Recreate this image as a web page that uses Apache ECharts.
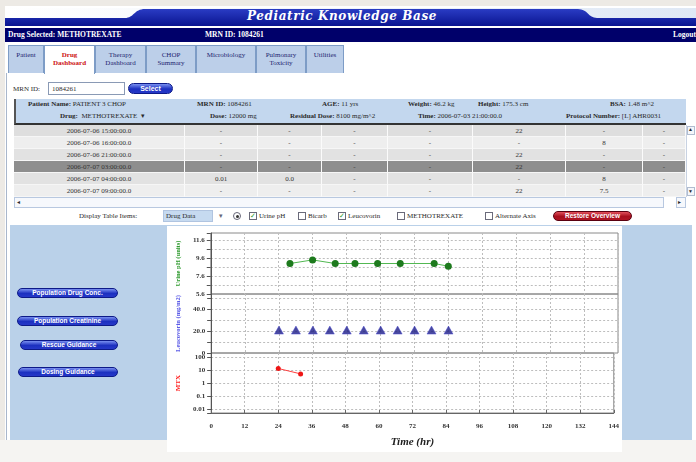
<!DOCTYPE html>
<html><head><meta charset="utf-8">
<script src="https://cdn.jsdelivr.net/npm/echarts@6/dist/echarts.min.js"></script>
<style>
html,body{margin:0;padding:0;}
body{width:696px;height:462px;overflow:hidden;background:#edeae5;position:relative;}
.a{position:absolute;box-sizing:border-box;}
.t{position:absolute;font-family:'Liberation Serif','DejaVu Serif',serif;font-size:7px;line-height:8px;white-space:nowrap;color:#2a2a2a;}
.b{font-weight:bold;}
.tab{position:absolute;top:45px;height:28px;box-sizing:border-box;border:1px solid #7d9cc6;border-bottom:none;background:#bccfe9;font-family:'Liberation Serif',serif;font-size:7px;line-height:8px;text-align:center;color:#1d2570;padding-top:5px;}
.cb{position:absolute;top:212px;width:8px;height:8px;box-sizing:border-box;border:1px solid #6a6a7a;background:#fff;font-size:7px;line-height:6px;color:#2a9a2a;text-align:center;font-family:'DejaVu Sans',sans-serif;}
.btn{position:absolute;box-sizing:border-box;border-radius:6px;color:#fff;font-family:'Liberation Sans',sans-serif;font-weight:bold;font-size:6.5px;line-height:9px;text-align:center;white-space:nowrap;}
.blue{background:linear-gradient(#7a90f0,#1c30c0 55%,#2638c8);border:1px solid #0d1a88;}
.red{background:linear-gradient(#e2505c,#a8101e 55%,#b01424);border:1px solid #5a0010;}
.cell{position:absolute;box-sizing:border-box;border-right:1px solid #fbfbfb;font-family:'Liberation Serif',serif;font-size:7px;line-height:12px;text-align:center;color:#333;white-space:nowrap;}
</style></head><body>
<div class="a" style="left:5px;top:6px;width:691px;height:434px;background:#fff"></div>
<div class="a" style="left:0;top:440px;width:696px;height:22px;background:#f5f4f2"></div>

<svg class="a" style="left:5px;top:8px" width="691" height="18">
<defs>
<linearGradient id="hb" x1="0" y1="0" x2="0" y2="1"><stop offset="0" stop-color="#2a3cc4"/><stop offset="1" stop-color="#0a1490"/></linearGradient>
<linearGradient id="hw" x1="0" y1="0" x2="1" y2="0"><stop offset="0" stop-color="#ffffff"/><stop offset="1" stop-color="#dfe8f5"/></linearGradient>
</defs>
<rect x="0" y="0" width="691" height="11" fill="url(#hw)"/>
<path d="M0,10 L120,10 C129,10 129,1 140,1 L573,1 C583,1 583,10 592,10 L691,10 L691,18 L0,18 Z" fill="url(#hb)"/>
</svg>
<div class="t" style="left:230px;top:9px;width:224px;text-align:center;font-family:'DejaVu Serif',serif;font-style:italic;font-weight:bold;font-size:12px;line-height:14px;color:#fff;letter-spacing:0.6px">Pediatric Knowledge Base</div>
<div class="a" style="left:5px;top:28px;width:691px;height:14px;background:#00006a"></div>
<div class="t b" style="left:8px;top:31px;color:#fff;font-size:7.5px">Drug Selected: METHOTREXATE</div>
<div class="t b" style="left:205px;top:31px;color:#fff;font-size:7.5px">MRN ID: 1084261</div>
<div class="t b" style="left:673px;top:31px;color:#fff;font-size:7.5px">Logout</div>

<div class="tab" style="left:8px;width:36px">Patient</div>
<div class="tab" style="left:44px;width:51px;background:#fff;height:29px;color:#cc1010;font-weight:bold">Drug<br>Dashboard</div>
<div class="tab" style="left:95px;width:51px">Therapy<br>Dashboard</div>
<div class="tab" style="left:146px;width:50px">CHOP<br>Summary</div>
<div class="tab" style="left:196px;width:60px">Microbiology</div>
<div class="tab" style="left:256px;width:50px">Pulmonary<br>Toxicity</div>
<div class="tab" style="left:306px;width:38px">Utilities</div>
<div class="a" style="left:6px;top:73px;width:1px;height:367px;background:#a9b7cc"></div>

<div class="t" style="left:13px;top:85px">MRN ID:</div>
<div class="a" style="left:48px;top:82px;width:77px;height:13px;border:1px solid #8a9ab5;background:#fff"></div>
<div class="t" style="left:52px;top:85px">1084261</div>
<div class="btn blue" style="left:128px;top:83px;width:45px;height:11px;font-size:7px">Select</div>

<div class="a" style="left:14px;top:99px;width:672px;height:26px;background:#c3d7ee;border-left:2px solid #555;border-bottom:2px solid #333"></div>
<div class="t" style="left:28px;top:100px"><b>Patient Name:</b> PATIENT 3 CHOP</div>
<div class="t" style="left:197px;top:100px"><b>MRN ID:</b> 1084261</div>
<div class="t" style="left:322px;top:100px"><b>AGE:</b> 11 yrs</div>
<div class="t" style="left:408px;top:100px"><b>Weight:</b> 46.2 kg</div>
<div class="t" style="left:478px;top:100px"><b>Height:</b> 175.3 cm</div>
<div class="t" style="left:610px;top:100px"><b>BSA:</b> 1.48 m^2</div>
<div class="t" style="left:60px;top:112px"><b>Drug:</b> &nbsp;METHOTREXATE &nbsp;▾</div>
<div class="t" style="left:210px;top:112px"><b>Dose:</b> 12000 mg</div>
<div class="t" style="left:290px;top:112px"><b>Residual Dose:</b> 8100 mg/m^2</div>
<div class="t" style="left:418px;top:112px"><b>Time:</b> 2006-07-03 21:00:00.0</div>
<div class="t" style="left:566px;top:112px"><b>Protocol Number:</b> [L] AHR0031</div>

<div id="tbl"></div>

<div class="a" style="left:686px;top:125px;width:10px;height:72px;background:#fff;border-left:1px solid #c8d2e2"></div>
<div class="a" style="left:687px;top:126px;width:8px;height:9px;border:1px solid #b0bcd0;background:#f4f6fa"></div>
<div class="t" style="left:688px;top:126px;font-size:5px">▲</div>
<div class="a" style="left:687px;top:187px;width:8px;height:9px;border:1px solid #b0bcd0;background:#f4f6fa"></div>
<div class="t" style="left:688px;top:188px;font-size:5px">▼</div>
<div class="a" style="left:14px;top:197px;width:650px;height:11px;border:1px solid #b8c8e0;background:#f6f8fc"></div>
<div class="t" style="left:17px;top:198px;font-size:6px">◂</div>
<div class="a" style="left:676px;top:197px;width:10px;height:11px;border:1px solid #b8c8e0;background:#f6f8fc"></div>
<div class="t" style="left:678px;top:198px;font-size:6px">▸</div>

<div class="t" style="left:79px;top:212px">Display Table Items:</div>
<div class="a" style="left:163px;top:210px;width:50px;height:12px;background:#c6daf0;border:1px solid #b0c4e0"></div>
<div class="t" style="left:166px;top:212px">Drug Data</div>
<div class="t" style="left:219px;top:212px;color:#667">▾</div>
<div class="a" style="left:233px;top:212px;width:8px;height:8px;border-radius:50%;border:1px solid #667;background:#fff"></div>
<div class="a" style="left:235.5px;top:214.5px;width:3px;height:3px;border-radius:50%;background:#333"></div>
<div class="cb" style="left:249px">✓</div><div class="t" style="left:259px;top:212px">Urine pH</div>
<div class="cb" style="left:298px"></div><div class="t" style="left:308px;top:212px">Bicarb</div>
<div class="cb" style="left:338px">✓</div><div class="t" style="left:348px;top:212px">Leucovorin</div>
<div class="cb" style="left:397px"></div><div class="t" style="left:407px;top:212px">METHOTREXATE</div>
<div class="cb" style="left:485px"></div><div class="t" style="left:495px;top:212px">Alternate Axis</div>
<div class="btn red" style="left:553px;top:211px;width:79px;height:10px;line-height:8px">Restore Overview</div>

<div class="a" style="left:10px;top:225px;width:682px;height:215px;background:#bad1e9"></div>
<div class="btn blue" style="left:17px;top:288px;width:101px;height:10px;line-height:8px">Population Drug Conc.</div>
<div class="btn blue" style="left:17px;top:316px;width:101px;height:10px;line-height:8px">Population Creatinine</div>
<div class="btn blue" style="left:20px;top:340px;width:98px;height:10px;line-height:8px">Rescue Guidance</div>
<div class="btn blue" style="left:18px;top:367px;width:100px;height:10px;line-height:8px">Dosing Guidance</div>

<div id="chart" class="a" style="left:167px;top:226px;width:455px;height:226px;background:#fff"></div>

<script>
// ---- table data ----
const tableTimes = ['2006-07-06 15:00:00.0','2006-07-06 16:00:00.0','2006-07-06 21:00:00.0','2006-07-07 03:00:00.0','2006-07-07 04:00:00.0','2006-07-07 09:00:00.0'];
const tableCells = [
  ['-','-','-','-','22','-','-'],
  ['-','-','-','-','-','8','-'],
  ['-','-','-','-','22','-','-'],
  ['-','-','-','-','22','-','-'],
  ['0.01','0.0','-','-','-','8','-'],
  ['-','-','-','-','22','7.5','-']
];
// ---- chart data ----
const timeTicks = [0,12,24,36,48,60,72,84,96,108,120,132,144];
const phTickLabels = ['11.6','9.6','7.6','5.6'];
const leucoTickLabels = ['40.0','20.0','0'];
const mtxTickLabels = ['100','10','1','0.1','0.01'];
const urineHours = [28,36,44,51,59,67,79,84];
const urinePH = [9.0,9.4,9.0,9.0,9.0,9.0,9.0,8.7];
const leucoHours = [24,30,36,42,48,54,60,66,72,78,84];
const leucoDose = [21,21,21,21,21,21,21,21,21,21,21];
const mtxHours = [24,32];
const mtxLevel = [13,5];

// build table
(function(){
  const cols = [[14,185],[185,258],[258,322],[322,388],[388,473],[473,566],[566,643],[643,686]];
  const rowBg = ['#dedede','#eeeeee','#e2e2e2','#8e8e8e','#e2e2e2','#eeeeee'];
  const tbl = document.getElementById('tbl');
  let html = '';
  tableTimes.forEach((tm,r)=>{
    const y = 125 + r*12;
    const vals = [tm].concat(tableCells[r]);
    cols.forEach((c,ci)=>{
      html += '<div class="cell" style="left:'+c[0]+'px;top:'+y+'px;width:'+(c[1]-c[0])+'px;height:12px;background:'+rowBg[r]+';border-bottom:1px solid #f6f6f6">'+vals[ci]+'</div>';
    });
  });
  tbl.innerHTML = html;
})();

const font = "'Liberation Serif', 'DejaVu Serif', serif";
const lbl = {fontSize:7, fontFamily:font, fontWeight:'bold', color:'#333'};
const gridLine = {show:true, showMinLine:false, showMaxLine:false, lineStyle:{color:'#bdbdbd', type:[2,2], width:1}};
const axisLineY = {show:true, lineStyle:{color:'#555', width:1}};
const tickY = {show:true, length:4, lineStyle:{color:'#555'}};

const chart = echarts.init(document.getElementById('chart'));
const grids = [
  {left:38, width:413, top:7, height:61},
  {left:38, width:413, top:68, height:59},
  {left:38, width:413, top:127, height:60}
].map(g => Object.assign(g, {show:true, borderColor:'#8a8a8a', borderWidth:1, backgroundColor:'transparent'}));

const xAxes = [0,1,2].map(i => ({
  gridIndex:i, type:'value',
  min: timeTicks[0], max: timeTicks[timeTicks.length-1], interval: timeTicks[1]-timeTicks[0],
  axisLine:{show:i===2, lineStyle:{color:'#666'}},
  axisTick:{show:i===2, inside:true, length:3, lineStyle:{color:'#666'}},
  axisLabel:Object.assign({show:i===2, margin:10, formatter: v => timeTicks.includes(v) ? String(v) : ''}, lbl),
  splitLine:{show:true, lineStyle:{color:'#bdbdbd', type:[2,2], width:1}},
  name: i===2 ? 'Time (hr)' : '', nameLocation:'middle', nameGap:24,
  nameTextStyle:{fontFamily:font, fontSize:11, fontStyle:'italic', fontWeight:'bold', color:'#222'}
}));

const yAxes = [
  {gridIndex:0, type:'value', min:5.6, max:12.4, interval:1,
   name:'Urine pH (units)', nameTextStyle:{color:'#2e9a2e', fontSize:6.5, fontFamily:font, fontWeight:'bold'},
   axisLabel:Object.assign({margin:6, formatter: v => { const s=(+v).toFixed(1); return phTickLabels.includes(s)? s : ''; }}, lbl)},
  {gridIndex:1, type:'value', min:0, max:54, interval:10,
   name:'Leucovorin (mg/m2)', nameTextStyle:{color:'#5a5ae6', fontSize:6.5, fontFamily:font, fontWeight:'bold'},
   axisLabel:Object.assign({margin:6, formatter: v => { const s = v===0 ? '0' : (+v).toFixed(1); return leucoTickLabels.includes(s) ? s : ''; }}, lbl)},
  {gridIndex:2, type:'log', logBase:10, min:0.005, max:200,
   name:'MTX', nameTextStyle:{color:'#ff2020', fontSize:7, fontFamily:font, fontWeight:'bold'},
   axisLabel:Object.assign({margin:6, formatter: v => { const s = String(parseFloat((+v).toPrecision(6))); return mtxTickLabels.includes(s) ? s : ''; }}, lbl)}
].map(a => Object.assign(a, {nameLocation:'middle', nameGap:28, axisLine:axisLineY, axisTick:tickY, splitLine:gridLine}));

chart.setOption({
  animation:false,
  grid: grids,
  xAxis: xAxes,
  yAxis: yAxes,
  series: [
    {type:'line', xAxisIndex:0, yAxisIndex:0, data: urineHours.map((h,i)=>[h, urinePH[i]]),
     symbol:'circle', symbolSize:7, lineStyle:{color:'#52b852', width:1}, itemStyle:{color:'#1d7a1d'}},
    {type:'scatter', xAxisIndex:1, yAxisIndex:1, data: leucoHours.map((h,i)=>[h, leucoDose[i]]),
     symbol:'triangle', symbolSize:[9,8], itemStyle:{color:'#1c1c86', borderColor:'#4a4ad0', borderWidth:0.6}},
    {type:'line', xAxisIndex:2, yAxisIndex:2, data: mtxHours.map((h,i)=>[h, mtxLevel[i]]),
     symbol:'circle', symbolSize:5, lineStyle:{color:'#ff4040', width:1}, itemStyle:{color:'#ee1515'}}
  ]
});
</script>
</body></html>
